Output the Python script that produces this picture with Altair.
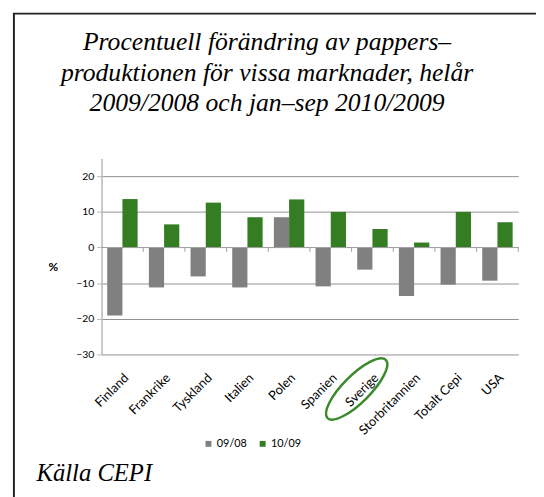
import altair as alt
import pandas as pd

categories = ["Finland", "Frankrike", "Tyskland", "Italien", "Polen", "Spanien",
              "Sverige", "Storbritannien", "Totalt Cepi", "USA"]
series_names = ["09/08", "10/09"]
values_0908 = [-19.1, -11.2, -8.1, -11.2, 8.5, -10.9, -6.2, -13.6, -10.4, -9.3]
values_1009 = [13.6, 6.5, 12.6, 8.5, 13.5, 10.0, 5.2, 1.4, 10.0, 7.1]
y_ticks = [-30, -20, -10, 0, 10, 20]
title_lines = ["Procentuell förändring av pappers–",
               "produktionen för vissa marknader, helår",
               "2009/2008 och jan–sep 2010/2009"]
source_text = "Källa CEPI"
y_unit = "%"
highlight = "Sverige"

rows = []
for c, a, b in zip(categories, values_0908, values_1009):
    rows.append({"cat": c, "series": series_names[0], "value": a})
    rows.append({"cat": c, "series": series_names[1], "value": b})
df = pd.DataFrame(rows)

W, H = 423, 199
GRAY = "#808080"
GREEN = "#357d23"
SERIF = "Liberation Serif"

xscale = alt.Scale(domain=categories, paddingInner=0.27, paddingOuter=0.135)
yscale = alt.Scale(domain=[-30, 25], nice=False, zero=False)
xaxis = alt.Axis(title=None, labelAngle=-45, domain=False, ticks=False,
                 labelFont="Lato", labelFontSize=13, labelColor="#000000",
                 labelPadding=17, grid=False, labelOverlap=False)
yaxis = alt.Axis(title=None, values=y_ticks, grid=True, gridColor="#8f8f8f",
                 gridWidth=1, domainColor="#b8b8b8", domainWidth=1.5,
                 tickColor="#b8b8b8", tickSize=5, labelFont="Lato",
                 labelFontSize=10.5, labelColor="#000000", labelPadding=3,
                 labelOverlap=False)

bars = alt.Chart(df).mark_bar().encode(
    x=alt.X("cat:N", scale=xscale, sort=categories, axis=xaxis),
    xOffset=alt.XOffset("series:N", sort=series_names, scale=alt.Scale(paddingInner=0, paddingOuter=0)),
    y=alt.Y("value:Q", scale=yscale, axis=yaxis),
    color=alt.Color("series:N", sort=series_names,
                    scale=alt.Scale(domain=series_names, range=[GRAY, GREEN]),
                    legend=alt.Legend(title=None, orient="none", legendX=103, legendY=284,
                                      direction="horizontal", symbolType="square",
                                      symbolSize=36, symbolStrokeWidth=0,
                                      labelFont="Lato", labelFontSize=11,
                                      labelColor="#000000", columnPadding=10,
                                      labelOffset=3, padding=0)),
)

zero_df = pd.DataFrame({"v": [0]})
zero_rule = alt.Chart(zero_df).mark_rule(color="#a0a0a0", strokeWidth=1.2).encode(
    y=alt.Y("v:Q", scale=yscale, axis=yaxis)
)

tick_df = pd.DataFrame({"cat": categories, "a": [0] * len(categories), "b": [-1.2] * len(categories)})
cat_ticks = alt.Chart(tick_df).mark_rule(color="#a0a0a0", strokeWidth=1, xOffset=5.7).encode(
    x=alt.X("cat:N", scale=xscale, sort=categories, bandPosition=1, axis=xaxis),
    y=alt.Y("a:Q", scale=yscale, axis=yaxis),
    y2="b:Q",
)

ellipse_path = ("M 0.7071 -0.7071 A 1 0.33 -45 0 1 -0.7071 0.7071 "
                "A 1 0.33 -45 0 1 0.7071 -0.7071 Z")
ell_df = pd.DataFrame({"cat": [highlight]})
ellipse = alt.Chart(ell_df).mark_point(
    shape=ellipse_path, filled=False, stroke="#3a8a2a", strokeWidth=2.5,
    size=7000, xOffset=-16, opacity=1
).encode(
    x=alt.X("cat:N", scale=xscale, sort=categories, axis=xaxis),
    y=alt.value(234),
)

title_layers = []
for i, line in enumerate(title_lines):
    title_layers.append(
        alt.Chart(pd.DataFrame({"t": [line]})).mark_text(
            font=SERIF, fontStyle="italic", fontSize=26,
            align="center", baseline="alphabetic", color="#000000"
        ).encode(text="t:N", x=alt.value(168), y=alt.value([-109.7, -78.7, -48][i]))
    )

pct = alt.Chart(pd.DataFrame({"t": [y_unit]})).mark_text(
    font="Lato", fontSize=12, fontWeight="bold", align="center",
    baseline="alphabetic", color="#000000"
).encode(text="t:N", x=alt.value(-49), y=alt.value(114))

src = alt.Chart(pd.DataFrame({"t": [source_text]})).mark_text(
    font=SERIF, fontStyle="italic", fontSize=25, align="left",
    baseline="alphabetic", color="#000000"
).encode(text="t:N", x=alt.value(-66), y=alt.value(327))

border_left = alt.Chart(zero_df).mark_rule(color="#222222", strokeWidth=2).encode(
    x=alt.value(-89), y=alt.value(-147), y2=alt.value(345)
)
border_top = alt.Chart(zero_df).mark_rule(color="#222222", strokeWidth=2).encode(
    x=alt.value(-90), x2=alt.value(445), y=alt.value(-147)
)

chart = alt.layer(
    bars, zero_rule, cat_ticks, ellipse, *title_layers, pct, src, border_left, border_top
).properties(
    width=W, height=H,
    padding={"left": 95, "top": 149, "right": 18, "bottom": 141},
    autosize=alt.AutoSizeParams(type="none"),
    background="#ffffff",
).configure_view(stroke=None)

chart.save("out.html", embed_options={"renderer": "svg", "actions": False})
